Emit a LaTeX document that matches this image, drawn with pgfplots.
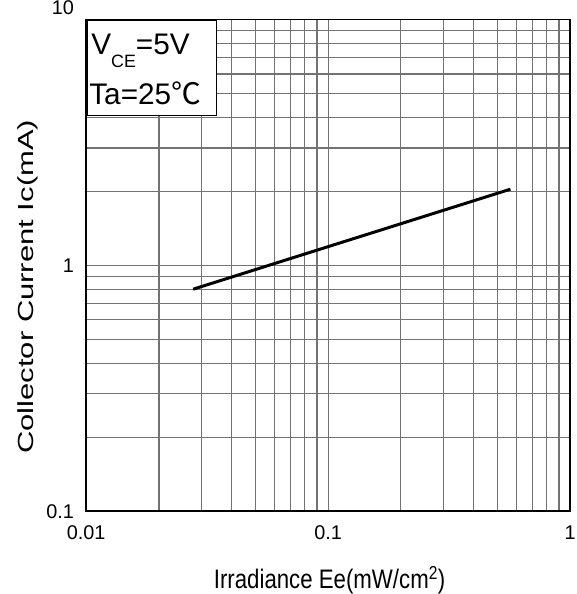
\documentclass[border=0pt]{standalone}
\usepackage{pgfplots}
\pgfplotsset{compat=1.18}
\usepackage{fontspec}
\setmainfont{Liberation Sans}
\newfontfamily\cjk{Noto Sans CJK SC}
\begin{document}
\begin{tikzpicture}
\begin{axis}[
  xmode=log, ymode=log,
  scale only axis, width=486bp, height=494bp,
  xmin=0.01, xmax=1, ymin=0.1, ymax=10,
  xtick={0.01,0.1,1}, xticklabels={0.01,0.1,1},
  ytick={0.1,1,10}, yticklabels={0.1,1,\raisebox{11.5bp}{10}},
  grid=both,
  major grid style={draw=black!55, line width=1.1bp},
  minor grid style={draw=black!55, line width=1.1bp},
  axis line style={line width=1.6bp},
  major tick length=0pt, minor tick length=0pt,
  tick label style={font=\fontsize{20}{22}\selectfont, inner sep=0pt},
  xticklabel style={anchor=base, yshift=-28.5bp},
  yticklabel style={anchor=base east, xshift=-12bp, yshift=-7bp},
  xlabel={\scalebox{0.83}[1]{Irradiance Ee(mW/cm$^{\mathrm{2}}$)}},
  ylabel={\scalebox{1.42}[1]{Collector Current Ic(mA)}},
  xlabel style={font=\fontsize{27}{30}\selectfont, inner sep=0pt, anchor=base,
    at={([xshift=1.5bp,yshift=-77.5bp]rel axis cs:0.5,0)}},
  ylabel style={font=\fontsize{22}{24}\selectfont, inner sep=0pt, anchor=center,
    at={([xshift=-58.5bp,yshift=-21.5bp]rel axis cs:0,0.5)}},
  clip=false,
]
\coordinate (O) at (rel axis cs:0,0);
\addplot[black, line width=3bp] coordinates {(0.0277,0.80) (0.567,2.04)};
\node[draw=black, line width=1.5bp, fill=white, anchor=north west, minimum width=130bp, minimum height=95.5bp,
  inner sep=0pt] at (rel axis cs:0,1) {};
\node[anchor=base west, font=\fontsize{30}{32}\selectfont, inner sep=0pt] at ([xshift=5bp,yshift=-35bp]rel axis cs:0,1)
  {V\raisebox{-13bp}{\fontsize{18}{20}\selectfont CE}=5V};
\node[anchor=base west, font=\fontsize{30}{32}\selectfont, inner sep=0pt] at ([xshift=3bp,yshift=-85bp]rel axis cs:0,1)
  {Ta=25{\cjk ℃}};
\end{axis}
\path (O) ++(-86.5bp,-80.5bp) rectangle ++(579bp,594bp);
\end{tikzpicture}
\end{document}
